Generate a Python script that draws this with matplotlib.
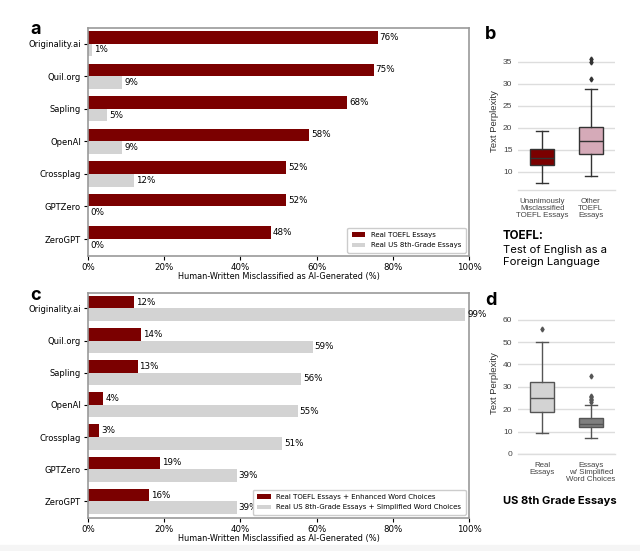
import numpy as np
import matplotlib
matplotlib.use("Agg")
import matplotlib.pyplot as plt
from matplotlib.patches import Rectangle

detectors = ["Originality.ai", "Quil.org", "Sapling", "OpenAI", "Crossplag", "GPTZero", "ZeroGPT"]

# panel a
toefl_real = [76, 75, 68, 58, 52, 52, 48]
us_real = [1, 9, 5, 9, 12, 0, 0]
# panel c
toefl_enh = [12, 14, 13, 4, 3, 19, 16]
us_simpl = [99, 59, 56, 55, 51, 39, 39]

# panel b box stats (whislo, q1, med, q3, whishi, fliers)
b_labels = ["Unanimously\nMisclassified\nTOEFL Essays", "Other\nTOEFL\nEssays"]
b_stats = [(7.4, 11.6, 13.1, 15.2, 19.4, []),
           (9.1, 14.1, 17.0, 20.2, 28.9, [31.1, 34.9, 35.7])]
b_colors = ["#7b0000", "#d5aab8"]

# panel d
d_labels = ["Real\nEssays", "Essays\nw/ Simplified\nWord Choices"]
d_stats = [(9.4, 18.7, 25.1, 32.1, 50.0, [56.0]),
           (7.0, 12.1, 13.4, 16.3, 21.8, [23.2, 24.0, 24.6, 25.3, 26.0, 35.0])]
d_colors = ["#d3d3d3", "#7f7f7f"]

RED = "#7b0000"
GREY = "#d3d3d3"


def bar_panel(ax, v1, v2, lab1, lab2):
    y = np.arange(len(detectors))
    h = 0.39
    ax.barh(y - h / 2, v1, height=h, color=RED, label=lab1)
    ax.barh(y + h / 2, v2, height=h, color=GREY, label=lab2)
    for i in range(len(detectors)):
        ax.text(v1[i] + 0.5, y[i] - h / 2, "%d%%" % v1[i], va="center", fontsize=6.3, clip_on=False)
        ax.text(v2[i] + 0.5, y[i] + h / 2, "%d%%" % v2[i], va="center", fontsize=6.3, clip_on=False)
    ax.set_yticks(y)
    ax.set_yticklabels(detectors, fontsize=6)
    ax.set_ylim(6.52, -0.48)
    ax.set_xlim(0, 100)
    ax.set_xticks([0, 20, 40, 60, 80, 100])
    ax.set_xticklabels(["%d%%" % t for t in [0, 20, 40, 60, 80, 100]], fontsize=6.2)
    ax.tick_params(length=3, pad=2)
    ax.set_xlabel("Human-Written Misclassified as AI-Generated (%)", fontsize=5.9, labelpad=0)
    for s in ax.spines.values():
        s.set_color("#999999")
        s.set_linewidth(1.2)
    ax.legend(loc="lower right", fontsize=5, frameon=True, handlelength=2.0,
              borderpad=0.6, labelspacing=0.6, framealpha=1, edgecolor="#cccccc",
              fancybox=True)


def box_panel(ax, stats, labels, colors, line_col):
    bxp = []
    for st in stats:
        bxp.append(dict(whislo=st[0], q1=st[1], med=st[2], q3=st[3], whishi=st[4], fliers=st[5]))
    r = ax.bxp(bxp, positions=[0, 1], widths=0.5, patch_artist=True,
               boxprops=dict(edgecolor=line_col, linewidth=1),
               medianprops=dict(color=line_col, linewidth=1),
               whiskerprops=dict(color=line_col, linewidth=1),
               capprops=dict(color=line_col, linewidth=1),
               flierprops=dict(marker="d", markersize=2.5, markerfacecolor=line_col,
                               markeredgecolor=line_col))
    for p, c in zip(r["boxes"], colors):
        p.set_facecolor(c)
    ax.set_xlim(-0.5, 1.5)
    ax.set_xticks([0, 1])
    ax.set_xticklabels(labels, fontsize=5.7, color="#444444", linespacing=0.95,
                       family="Liberation Sans")
    ax.tick_params(length=0, pad=6)
    ax.tick_params(axis="y", labelsize=6, labelcolor="#444444", pad=4)
    for t in ax.get_yticklabels():
        t.set_family("Liberation Sans")
    ax.yaxis.grid(True, color="#dddddd", linewidth=1)
    ax.set_axisbelow(True)
    for s in ["left", "right", "top"]:
        ax.spines[s].set_visible(False)
    ax.spines["bottom"].set_color("#dddddd")
    ax.spines["bottom"].set_linewidth(1)
    ax.set_ylabel("Text Perplexity", fontsize=6.8, color="#333333", family="Liberation Sans",
                  labelpad=3)


fig = plt.figure(figsize=(6.4, 5.51), dpi=100)

# faint grey strip along the bottom edge
fig.patches.append(Rectangle((0, 0), 1, 6 / 551, transform=fig.transFigure,
                             color="#f5f5f5", zorder=0))

ax_a = fig.add_axes([88 / 640, 1 - 256 / 551, 381 / 640, 228 / 551])
bar_panel(ax_a, toefl_real, us_real, "Real TOEFL Essays", "Real US 8th-Grade Essays")

ax_c = fig.add_axes([88 / 640, 1 - 518 / 551, 381 / 640, 225 / 551])
bar_panel(ax_c, toefl_enh, us_simpl, "Real TOEFL Essays + Enhanced Word Choices",
          "Real US 8th-Grade Essays + Simplified Word Choices")

ax_b = fig.add_axes([518 / 640, 1 - 190 / 551, 97 / 640, 137 / 551])
box_panel(ax_b, b_stats, b_labels, b_colors, "#333333")
ax_b.set_ylim(5.9, 37)
ax_b.set_yticks([10, 15, 20, 25, 30, 35])

ax_d = fig.add_axes([518 / 640, 1 - 454 / 551, 97 / 640, 141 / 551])
box_panel(ax_d, d_stats, d_labels, d_colors, "#555555")
ax_d.set_ylim(0, 63)
ax_d.set_yticks([0, 10, 20, 30, 40, 50, 60])

# panel letters
for x, y, s in [(30, 34, "a"), (485, 39, "b"), (30, 300, "c"), (485, 305, "d")]:
    fig.text(x / 640, 1 - y / 551, s, fontsize=13, fontweight="bold", family="Inter",
             va="baseline")

fig.text(503 / 640, 1 - 239 / 551, "TOEFL:", fontsize=8.4, fontweight="bold", family="Inter",
         va="baseline")
fig.text(503 / 640, 1 - 253 / 551, "Test of English as a", fontsize=8.1, family="Inter",
         va="baseline")
fig.text(503 / 640, 1 - 265 / 551, "Foreign Language", fontsize=8.1, family="Inter",
         va="baseline")
fig.text(503 / 640, 1 - 504 / 551, "US 8th Grade Essays", fontsize=8, fontweight="bold",
         family="Inter", va="baseline")

fig.savefig("out.png", dpi=100)
